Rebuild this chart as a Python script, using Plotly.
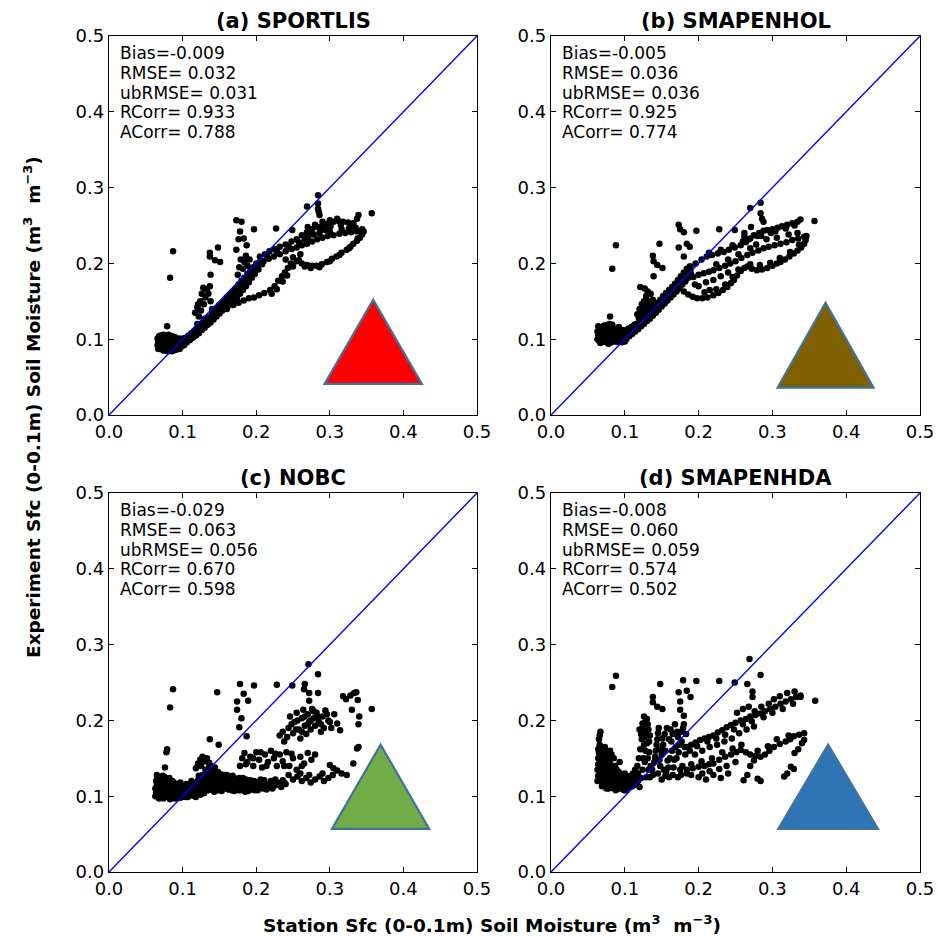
import plotly.graph_objects as go

# ---------------- data ----------------
panel_titles = ["(a) SPORTLIS", "(b) SMAPENHOL", "(c) NOBC", "(d) SMAPENHDA"]
stat_names = ["Bias", "RMSE", "ubRMSE", "RCorr", "ACorr"]
stats_a = ["-0.009", "0.032", "0.031", "0.933", "0.788"]
stats_b = ["-0.005", "0.036", "0.036", "0.925", "0.774"]
stats_c = ["-0.029", "0.063", "0.056", "0.670", "0.598"]
stats_d = ["-0.008", "0.060", "0.059", "0.574", "0.502"]
tick_vals = [0.0, 0.1, 0.2, 0.3, 0.4, 0.5]
one_to_one = [0.0, 0.5]

sportlis_points = [
    (0.066,0.092),(0.066,0.101),(0.067,0.087),(0.069,0.096),(0.070,0.105),(0.071,0.089),(0.072,0.099),
    (0.074,0.085),(0.075,0.093),(0.076,0.103),(0.078,0.088),(0.079,0.097),(0.080,0.084),(0.081,0.106),
    (0.082,0.091),(0.084,0.086),(0.085,0.100),(0.086,0.094),(0.088,0.085),(0.089,0.103),(0.090,0.090),
    (0.092,0.097),(0.093,0.087),(0.095,0.093),(0.096,0.101),(0.098,0.090),(0.079,0.117),(0.070,0.094),
    (0.083,0.096),
    (0.100,0.098),(0.102,0.092),(0.104,0.102),(0.106,0.096),(0.108,0.105),(0.110,0.099),(0.112,0.108),
    (0.114,0.102),(0.116,0.111),(0.118,0.105),(0.120,0.114),(0.122,0.108),(0.124,0.118),(0.126,0.112),
    (0.128,0.121),(0.130,0.115),(0.132,0.125),(0.134,0.119),(0.136,0.129),(0.138,0.122),(0.140,0.133),
    (0.142,0.126),(0.144,0.137),(0.146,0.130),(0.148,0.141),(0.150,0.134),(0.152,0.146),(0.154,0.138),
    (0.156,0.150),(0.158,0.141),(0.160,0.155),(0.162,0.144),(0.164,0.159),(0.166,0.148),(0.168,0.163),
    (0.170,0.151),(0.172,0.167),(0.174,0.155),(0.176,0.172),(0.178,0.160),(0.180,0.177),(0.182,0.165),
    (0.184,0.181),(0.186,0.170),(0.188,0.186),(0.190,0.175),(0.192,0.190),(0.194,0.181),(0.196,0.195),
    (0.198,0.186),(0.200,0.200),(0.203,0.192),(0.206,0.204),(0.140,0.140),(0.150,0.145),(0.160,0.150),
    (0.170,0.160),(0.180,0.170),(0.190,0.184),(0.130,0.127),(0.120,0.120),(0.110,0.104),
    (0.117,0.135),(0.120,0.142),(0.122,0.130),(0.124,0.150),(0.125,0.138),(0.126,0.160),(0.128,0.168),
    (0.129,0.146),(0.131,0.155),(0.133,0.166),(0.135,0.160),(0.137,0.170),(0.138,0.150),(0.121,0.146),
    (0.151,0.136),(0.160,0.140),(0.169,0.145),(0.176,0.148),(0.183,0.151),(0.190,0.154),(0.197,0.155),
    (0.204,0.158),(0.211,0.161),(0.219,0.165),(0.225,0.170),(0.230,0.177),(0.235,0.183),(0.239,0.188),
    (0.243,0.194),(0.247,0.200),
    (0.175,0.185),(0.177,0.195),(0.179,0.205),(0.182,0.193),(0.184,0.202),(0.186,0.210),(0.188,0.197),
    (0.191,0.205),
    (0.205,0.209),(0.212,0.212),(0.218,0.216),(0.225,0.219),(0.232,0.222),(0.240,0.225),(0.248,0.229),
    (0.255,0.232),(0.262,0.237),(0.269,0.241),(0.276,0.245),(0.283,0.248),(0.290,0.250),(0.297,0.252),
    (0.305,0.255),(0.312,0.256),(0.318,0.255),(0.325,0.254),(0.332,0.253),(0.337,0.259),(0.339,0.264),
    (0.300,0.257),(0.310,0.259),(0.290,0.255),(0.270,0.248),(0.280,0.251),
    (0.210,0.203),(0.217,0.206),(0.224,0.209),(0.232,0.212),(0.240,0.216),(0.248,0.219),(0.255,0.221),
    (0.262,0.224),(0.269,0.226),(0.276,0.229),(0.283,0.232),(0.290,0.234),(0.297,0.236),(0.305,0.237),
    (0.313,0.239),(0.321,0.240),(0.329,0.241),(0.337,0.242),(0.344,0.245),(0.260,0.212),(0.250,0.208),
    (0.240,0.205),
    (0.255,0.203),(0.262,0.200),(0.269,0.198),(0.276,0.197),(0.282,0.197),(0.289,0.199),(0.296,0.202),
    (0.303,0.206),(0.309,0.209),(0.316,0.214),(0.323,0.218),(0.328,0.222),(0.332,0.226),(0.337,0.230),
    (0.341,0.234),(0.344,0.238),(0.346,0.242),
    (0.087,0.216),(0.083,0.181),(0.173,0.257),(0.180,0.255),(0.178,0.242),(0.176,0.232),(0.183,0.233),
    (0.187,0.224),(0.173,0.218),(0.137,0.214),(0.137,0.209),(0.148,0.221),(0.144,0.204),(0.151,0.202),
    (0.138,0.185),(0.197,0.245),(0.227,0.246),(0.249,0.244),(0.269,0.275),(0.284,0.290),(0.284,0.279),
    (0.284,0.272),(0.285,0.268),(0.286,0.264),(0.357,0.266),
]
sportlis_extra = [
    (0.067,0.096),(0.068,0.104),(0.070,0.087),(0.071,0.100),(0.073,0.091),(0.074,0.106),(0.076,0.096),
    (0.077,0.085),(0.078,0.101),(0.080,0.092),(0.081,0.088),(0.082,0.100),(0.084,0.094),(0.085,0.084),
    (0.086,0.104),(0.087,0.089),(0.088,0.098),(0.090,0.094),(0.091,0.086),(0.092,0.101),(0.094,0.089),
    (0.094,0.097),(0.096,0.087),(0.097,0.096),(0.099,0.092),
    (0.101,0.101),(0.105,0.099),(0.109,0.101),(0.113,0.105),(0.117,0.107),(0.121,0.111),(0.125,0.115),
    (0.129,0.124),(0.133,0.122),(0.137,0.125),(0.141,0.129),(0.145,0.133),(0.149,0.137),(0.153,0.141),
    (0.157,0.145),(0.161,0.148),(0.165,0.153),(0.169,0.157),(0.173,0.162),(0.177,0.166),(0.181,0.172),
    (0.185,0.177),(0.189,0.181),(0.193,0.186),(0.197,0.191),(0.201,0.196),(0.204,0.200),(0.208,0.199),
    (0.215,0.210),(0.228,0.216),(0.244,0.222),(0.258,0.228),(0.266,0.232),(0.273,0.238),(0.287,0.243),
    (0.301,0.249),(0.315,0.251),(0.329,0.249),(0.335,0.247),(0.286,0.240),(0.294,0.244),(0.278,0.238),
    (0.270,0.234),(0.300,0.242),(0.316,0.245),(0.326,0.246),
    (0.221,0.160),(0.228,0.166),(0.236,0.176),(0.242,0.184),(0.250,0.196),(0.258,0.204),(0.266,0.196),
    (0.274,0.194),(0.286,0.195),(0.300,0.203),(0.313,0.211),(0.326,0.220),(0.338,0.233),
]

smapenhol_points = [
    (0.063,0.100),(0.063,0.110),(0.064,0.117),(0.066,0.104),(0.067,0.095),(0.068,0.113),(0.070,0.100),
    (0.071,0.108),(0.072,0.118),(0.074,0.096),(0.075,0.104),(0.076,0.112),(0.078,0.099),(0.079,0.120),
    (0.080,0.107),(0.082,0.096),(0.083,0.115),(0.084,0.102),(0.086,0.109),(0.087,0.097),(0.089,0.114),
    (0.090,0.103),(0.092,0.097),(0.093,0.110),(0.095,0.103),(0.097,0.099),(0.098,0.112),(0.100,0.105),
    (0.102,0.100),(0.104,0.110),(0.106,0.104),(0.108,0.112),(0.080,0.130),(0.110,0.107),
    (0.112,0.115),(0.114,0.110),(0.116,0.120),(0.118,0.113),(0.120,0.124),(0.122,0.117),(0.124,0.128),
    (0.126,0.120),(0.128,0.132),(0.130,0.124),(0.132,0.137),(0.134,0.127),(0.136,0.140),(0.138,0.131),
    (0.140,0.144),(0.142,0.135),(0.144,0.148),(0.146,0.139),(0.148,0.152),(0.150,0.143),(0.152,0.157),
    (0.154,0.147),(0.156,0.161),(0.158,0.151),(0.160,0.165),(0.162,0.155),(0.164,0.169),(0.166,0.159),
    (0.168,0.173),(0.170,0.163),(0.172,0.178),(0.174,0.167),(0.176,0.183),(0.178,0.172),(0.180,0.188),
    (0.182,0.176),(0.184,0.193),(0.186,0.181),(0.188,0.196),(0.190,0.185),
    (0.117,0.133),(0.120,0.140),(0.123,0.146),(0.126,0.150),(0.129,0.144),(0.132,0.150),(0.135,0.146),
    (0.138,0.152),(0.124,0.138),(0.121,0.169),(0.127,0.167),(0.131,0.163),(0.135,0.160),(0.129,0.157),
    (0.189,0.196),(0.196,0.200),(0.204,0.205),(0.211,0.209),(0.218,0.211),(0.226,0.213),(0.234,0.215),
    (0.241,0.218),(0.249,0.221),(0.257,0.224),(0.264,0.228),(0.270,0.233),(0.275,0.237),(0.282,0.240),
    (0.288,0.243),(0.293,0.244),(0.300,0.245),(0.307,0.247),(0.313,0.249),(0.320,0.251),(0.327,0.253),
    (0.334,0.255),(0.338,0.258),(0.262,0.235),(0.280,0.236),(0.298,0.240),
    (0.193,0.182),(0.200,0.185),(0.207,0.187),(0.214,0.189),(0.220,0.191),(0.228,0.194),(0.236,0.197),
    (0.243,0.200),(0.250,0.203),(0.258,0.207),(0.266,0.211),(0.273,0.214),(0.281,0.217),(0.288,0.220),
    (0.295,0.222),(0.303,0.224),(0.311,0.226),(0.319,0.228),(0.327,0.231),(0.335,0.233),(0.343,0.235),
    (0.180,0.163),(0.186,0.159),(0.192,0.156),(0.198,0.154),(0.205,0.154),(0.212,0.155),(0.220,0.158),
    (0.227,0.161),(0.233,0.165),(0.239,0.169),(0.244,0.174),(0.248,0.178),(0.252,0.184),(0.257,0.190),
    (0.262,0.194),(0.200,0.170),(0.210,0.175),(0.220,0.178),(0.230,0.183),(0.240,0.188),(0.215,0.165),
    (0.195,0.172),
    (0.266,0.196),(0.272,0.193),(0.279,0.191),(0.286,0.192),(0.293,0.194),(0.300,0.197),(0.306,0.200),
    (0.311,0.202),(0.317,0.205),(0.323,0.209),(0.329,0.213),(0.334,0.217),(0.339,0.221),(0.343,0.226),
    (0.345,0.231),(0.346,0.236),
    (0.088,0.224),(0.083,0.193),(0.147,0.226),(0.138,0.210),(0.139,0.203),(0.144,0.198),(0.151,0.194),
    (0.139,0.183),(0.173,0.251),(0.175,0.245),(0.180,0.241),(0.173,0.221),(0.184,0.226),(0.188,0.222),
    (0.180,0.209),(0.197,0.243),(0.228,0.245),(0.249,0.244),(0.262,0.240),(0.271,0.248),(0.270,0.273),
    (0.284,0.280),(0.284,0.266),(0.286,0.259),(0.288,0.255),(0.357,0.256),
]
smapenhol_extra = [
    (0.064,0.106),(0.065,0.098),(0.066,0.114),(0.068,0.102),(0.069,0.108),(0.070,0.116),(0.072,0.097),
    (0.073,0.111),(0.074,0.102),(0.075,0.118),(0.077,0.106),(0.078,0.094),(0.079,0.113),(0.081,0.101),
    (0.082,0.110),(0.083,0.119),(0.085,0.098),(0.085,0.106),(0.087,0.113),(0.088,0.102),(0.090,0.109),
    (0.091,0.096),(0.092,0.116),(0.094,0.106),(0.096,0.096),(0.096,0.110),(0.099,0.101),(0.101,0.110),
    (0.103,0.104),(0.105,0.114),(0.107,0.108),(0.109,0.116),(0.094,0.100),(0.100,0.097),
    (0.113,0.119),(0.117,0.116),(0.121,0.121),(0.125,0.124),(0.129,0.127),(0.133,0.132),(0.137,0.136),
    (0.141,0.140),(0.145,0.144),(0.149,0.148),(0.153,0.152),(0.157,0.156),(0.161,0.160),(0.165,0.164),
    (0.169,0.168),(0.173,0.172),(0.177,0.177),(0.181,0.182),(0.185,0.187),(0.189,0.190),(0.119,0.128),
    (0.122,0.135),(0.126,0.143),(0.130,0.140),(0.134,0.141),(0.137,0.145),
    (0.214,0.214),(0.230,0.218),(0.246,0.224),(0.260,0.229),(0.268,0.232),(0.285,0.236),(0.304,0.242),
    (0.318,0.246),(0.330,0.250),(0.278,0.225),(0.292,0.232),(0.306,0.234),(0.322,0.238),(0.334,0.240),
    (0.224,0.199),(0.240,0.205),(0.254,0.212),(0.270,0.220),(0.208,0.162),(0.224,0.166),(0.236,0.172),
    (0.246,0.182),(0.254,0.192),(0.270,0.199),(0.283,0.198),(0.297,0.201),(0.310,0.207),(0.324,0.215),
    (0.336,0.225),
]

nobc_points = [
    (0.063,0.100),(0.063,0.110),(0.064,0.120),(0.065,0.128),(0.066,0.105),(0.067,0.115),(0.068,0.097),
    (0.069,0.124),(0.070,0.110),(0.071,0.102),(0.072,0.118),(0.074,0.097),(0.075,0.108),(0.076,0.125),
    (0.077,0.114),(0.079,0.100),(0.080,0.120),(0.082,0.106),(0.083,0.096),(0.085,0.113),(0.087,0.101),
    (0.088,0.118),(0.090,0.097),(0.091,0.108),(0.093,0.103),(0.095,0.113),(0.097,0.098),(0.099,0.107),
    (0.101,0.100),(0.103,0.111),(0.105,0.104),(0.107,0.099),(0.109,0.114),(0.111,0.106),(0.113,0.101),
    (0.115,0.117),(0.117,0.108),(0.119,0.103),(0.121,0.121),(0.123,0.112),(0.125,0.105),(0.127,0.128),
    (0.129,0.116),(0.131,0.108),(0.133,0.133),(0.135,0.121),(0.137,0.111),(0.139,0.127),(0.141,0.116),
    (0.143,0.106),(0.145,0.131),(0.147,0.120),(0.149,0.112),(0.151,0.125),(0.153,0.107),(0.155,0.118),
    (0.157,0.128),(0.159,0.110),(0.161,0.121),(0.163,0.114),(0.165,0.126),(0.167,0.108),(0.169,0.118),
    (0.171,0.112),(0.173,0.123),(0.176,0.108),(0.178,0.117),(0.180,0.111),(0.182,0.124),(0.185,0.106),
    (0.187,0.116),(0.190,0.110),(0.192,0.121),(0.195,0.113),(0.198,0.108),(0.200,0.118),(0.203,0.112),
    (0.206,0.122),(0.209,0.110),(0.212,0.116),(0.216,0.112),(0.220,0.120),(0.224,0.113),(0.228,0.118),
    (0.232,0.114),(0.236,0.121),(0.240,0.116),
    (0.118,0.137),(0.121,0.143),(0.124,0.148),(0.127,0.152),(0.130,0.146),(0.133,0.150),(0.136,0.144),
    (0.139,0.140),(0.142,0.137),(0.125,0.140),(0.076,0.138),(0.078,0.158),(0.079,0.162),
    (0.178,0.140),(0.181,0.150),(0.184,0.157),(0.188,0.145),(0.192,0.152),(0.196,0.140),(0.200,0.158),
    (0.204,0.148),(0.208,0.138),(0.212,0.155),(0.216,0.145),(0.220,0.160),(0.224,0.150),(0.228,0.140),
    (0.232,0.155),(0.236,0.146),(0.241,0.158),(0.245,0.140),(0.250,0.150),(0.255,0.135),(0.260,0.152),
    (0.265,0.143),(0.270,0.157),(0.275,0.148),(0.280,0.155),
    (0.244,0.128),(0.250,0.122),(0.256,0.126),(0.262,0.120),(0.268,0.124),(0.274,0.118),(0.280,0.122),
    (0.286,0.126),(0.292,0.120),(0.298,0.124),(0.304,0.128),
    (0.300,0.141),(0.305,0.137),(0.310,0.134),(0.316,0.130),(0.323,0.128),(0.332,0.143),(0.337,0.163),
    (0.339,0.165),
    (0.232,0.180),(0.238,0.172),(0.244,0.190),(0.246,0.205),(0.250,0.183),(0.252,0.198),(0.255,0.210),
    (0.258,0.188),(0.260,0.176),(0.262,0.203),(0.264,0.214),(0.266,0.193),(0.268,0.182),(0.270,0.208),
    (0.272,0.198),(0.274,0.188),(0.276,0.215),(0.278,0.203),(0.280,0.193),(0.282,0.210),(0.285,0.198),
    (0.288,0.185),(0.290,0.205),(0.294,0.213),(0.298,0.200),(0.302,0.190),(0.306,0.208),(0.310,0.196),
    (0.314,0.187),
    (0.318,0.232),(0.322,0.228),(0.328,0.233),(0.333,0.236),(0.336,0.237),(0.338,0.227),(0.340,0.205),
    (0.339,0.195),(0.330,0.214),
    (0.087,0.241),(0.083,0.217),(0.147,0.237),(0.178,0.248),(0.183,0.235),(0.189,0.226),(0.174,0.225),
    (0.174,0.214),(0.180,0.203),(0.177,0.191),(0.187,0.179),(0.137,0.175),(0.149,0.168),(0.197,0.246),
    (0.228,0.247),(0.249,0.246),(0.266,0.248),(0.271,0.274),(0.284,0.261),(0.265,0.241),(0.272,0.236),
    (0.284,0.236),(0.272,0.226),(0.357,0.215),
]
nobc_extra = [
    (0.064,0.105),(0.065,0.115),(0.066,0.124),(0.068,0.110),(0.069,0.102),(0.070,0.118),(0.072,0.106),
    (0.073,0.127),(0.074,0.112),(0.076,0.101),(0.077,0.120),(0.078,0.108),(0.080,0.099),(0.081,0.115),
    (0.082,0.124),(0.084,0.103),(0.085,0.109),(0.086,0.120),(0.088,0.099),(0.089,0.112),(0.090,0.104),
    (0.092,0.116),(0.093,0.098),(0.094,0.108),(0.096,0.103),(0.097,0.118),(0.099,0.099),(0.100,0.111),
    (0.102,0.105),(0.104,0.099),(0.105,0.116),(0.107,0.108),(0.109,0.102),(0.111,0.112),(0.112,0.120),
    (0.114,0.104),(0.116,0.111),(0.118,0.099),(0.119,0.116),(0.121,0.108),(0.122,0.127),(0.124,0.102),
    (0.125,0.120),(0.127,0.111),(0.129,0.104),(0.130,0.124),(0.131,0.135),(0.132,0.115),(0.134,0.128),
    (0.135,0.108),(0.136,0.138),(0.137,0.119),(0.139,0.110),(0.140,0.133),(0.142,0.123),(0.143,0.113),
    (0.144,0.138),(0.146,0.126),(0.148,0.108),(0.148,0.132),(0.150,0.118),(0.152,0.129),(0.154,0.112),
    (0.156,0.123),(0.158,0.116),(0.160,0.128),(0.162,0.109),(0.164,0.120),(0.166,0.113),(0.168,0.127),
    (0.170,0.107),(0.172,0.117),(0.175,0.113),(0.177,0.124),(0.179,0.108),(0.181,0.118),(0.184,0.112),
    (0.186,0.122),(0.189,0.107),(0.191,0.116),(0.194,0.109),(0.197,0.120),(0.199,0.113),(0.202,0.108),
    (0.205,0.117),(0.208,0.113),(0.211,0.121),(0.214,0.109),(0.218,0.116),(0.222,0.110),(0.226,0.122),
    (0.230,0.117),(0.234,0.112),(0.238,0.118),
    (0.236,0.185),(0.242,0.178),(0.248,0.195),(0.254,0.188),(0.256,0.200),(0.262,0.185),(0.266,0.205),
    (0.270,0.195),(0.274,0.200),(0.278,0.212),(0.284,0.205),(0.288,0.195),(0.292,0.190),(0.296,0.208),
    (0.300,0.198),(0.186,0.142),(0.196,0.150),(0.206,0.158),(0.214,0.140),(0.226,0.156),(0.238,0.140),
    (0.248,0.156),(0.262,0.140),(0.272,0.128),(0.260,0.130),(0.290,0.130),
]

smapenhda_points = [
    (0.063,0.120),(0.063,0.135),(0.064,0.150),(0.064,0.162),(0.065,0.175),(0.067,0.185),(0.066,0.128),
    (0.067,0.143),(0.068,0.157),(0.069,0.113),(0.070,0.136),(0.071,0.150),(0.072,0.122),(0.073,0.165),
    (0.074,0.140),(0.075,0.110),(0.076,0.130),(0.077,0.155),(0.078,0.118),(0.079,0.145),(0.080,0.160),
    (0.081,0.125),(0.082,0.135),(0.083,0.112),(0.085,0.150),(0.086,0.120),(0.087,0.140),(0.088,0.108),
    (0.090,0.128),(0.091,0.116),(0.093,0.145),(0.094,0.110),(0.096,0.122),(0.098,0.113),(0.100,0.130),
    (0.101,0.108),(0.103,0.118),(0.105,0.125),(0.107,0.112),(0.109,0.120),(0.111,0.130),(0.113,0.115),
    (0.115,0.125),(0.117,0.140),(0.118,0.120),
    (0.119,0.150),(0.121,0.162),(0.123,0.175),(0.120,0.188),(0.124,0.196),(0.126,0.205),(0.128,0.185),
    (0.130,0.170),(0.131,0.195),(0.133,0.158),(0.134,0.180),(0.127,0.145),(0.132,0.135),(0.129,0.125),
    (0.138,0.128),(0.140,0.145),(0.142,0.160),(0.144,0.175),(0.146,0.190),(0.148,0.140),(0.150,0.155),
    (0.152,0.168),(0.154,0.182),(0.156,0.132),(0.158,0.147),(0.160,0.175),(0.162,0.188),(0.164,0.160),
    (0.166,0.138),(0.168,0.195),(0.170,0.150),(0.172,0.178),(0.174,0.168),(0.176,0.185),(0.178,0.140),
    (0.180,0.195),(0.182,0.155),(0.184,0.130),(0.160,0.125),(0.172,0.125),(0.150,0.122),(0.145,0.130),
    (0.184,0.165),(0.190,0.168),(0.196,0.171),(0.202,0.174),(0.208,0.176),(0.214,0.178),(0.220,0.180),
    (0.226,0.184),(0.232,0.187),(0.238,0.191),(0.244,0.194),(0.250,0.197),(0.257,0.200),(0.264,0.202),
    (0.270,0.205),(0.277,0.207),(0.284,0.209),(0.290,0.212),(0.297,0.215),(0.304,0.218),(0.311,0.222),
    (0.318,0.225),(0.325,0.228),(0.332,0.231),(0.338,0.233),
    (0.184,0.135),(0.192,0.137),(0.200,0.139),(0.208,0.140),(0.214,0.142),(0.220,0.143),(0.228,0.148),
    (0.236,0.152),(0.244,0.155),(0.251,0.158),(0.257,0.161),(0.264,0.158),(0.270,0.155),(0.277,0.153),
    (0.284,0.152),(0.290,0.155),(0.296,0.160),(0.302,0.165),(0.310,0.169),(0.318,0.172),(0.324,0.175),
    (0.329,0.179),(0.336,0.181),(0.343,0.183),
    (0.195,0.155),(0.205,0.160),(0.215,0.165),(0.225,0.168),(0.235,0.172),(0.245,0.176),(0.255,0.183),
    (0.265,0.188),(0.275,0.192),(0.200,0.125),(0.210,0.122),(0.220,0.128),(0.230,0.124),(0.240,0.130),
    (0.261,0.121),(0.266,0.128),(0.270,0.140),(0.275,0.147),(0.280,0.123),(0.284,0.120),(0.316,0.126),
    (0.320,0.130),(0.325,0.139),(0.329,0.136),(0.330,0.157),(0.335,0.162),(0.340,0.170),(0.343,0.174),
    (0.252,0.210),(0.260,0.215),(0.268,0.218),(0.276,0.212),(0.285,0.218),(0.295,0.222),(0.302,0.228),
    (0.310,0.232),(0.320,0.236),(0.330,0.238),(0.338,0.231),
    (0.088,0.259),(0.083,0.244),(0.148,0.248),(0.138,0.231),(0.138,0.224),(0.144,0.218),(0.151,0.215),
    (0.179,0.253),(0.184,0.239),(0.173,0.237),(0.175,0.225),(0.175,0.214),(0.180,0.206),(0.189,0.231),
    (0.197,0.252),(0.228,0.252),(0.249,0.250),(0.266,0.248),(0.269,0.281),(0.284,0.260),(0.273,0.238),
    (0.273,0.231),(0.358,0.226),
]
smapenhda_extra = [
    (0.064,0.127),(0.064,0.142),(0.065,0.157),(0.066,0.168),(0.066,0.180),(0.067,0.135),(0.068,0.120),
    (0.068,0.150),(0.069,0.163),(0.070,0.128),(0.070,0.143),(0.071,0.116),(0.072,0.157),(0.073,0.133),
    (0.073,0.148),(0.074,0.120),(0.075,0.160),(0.076,0.115),(0.076,0.140),(0.077,0.125),(0.078,0.150),
    (0.078,0.110),(0.079,0.132),(0.080,0.120),(0.080,0.142),(0.081,0.115),(0.082,0.155),(0.083,0.128),
    (0.084,0.118),(0.084,0.140),(0.085,0.110),(0.086,0.132),(0.087,0.125),(0.088,0.115),(0.089,0.135),
    (0.090,0.110),(0.091,0.122),(0.092,0.132),(0.093,0.115),(0.095,0.128),(0.096,0.110),(0.097,0.120),
    (0.099,0.108),(0.100,0.118),(0.102,0.125),(0.104,0.112),(0.106,0.120),(0.108,0.127),(0.110,0.113),
    (0.112,0.122),(0.114,0.135),(0.116,0.118),(0.118,0.130),(0.120,0.112),(0.122,0.124),(0.124,0.135),
    (0.125,0.150),(0.126,0.168),(0.127,0.178),(0.122,0.182),(0.124,0.190),(0.128,0.198),(0.130,0.202),
    (0.132,0.188),(0.133,0.172),(0.131,0.150),(0.135,0.140),(0.128,0.160),(0.134,0.125),(0.137,0.135),
    (0.141,0.152),(0.143,0.168),(0.145,0.183),(0.147,0.148),(0.149,0.162),(0.151,0.176),(0.153,0.135),
    (0.155,0.160),(0.157,0.190),(0.159,0.138),(0.161,0.150),(0.163,0.172),(0.165,0.182),(0.167,0.148),
    (0.169,0.165),(0.171,0.185),(0.173,0.158),(0.175,0.135),(0.177,0.172),(0.179,0.190),(0.181,0.165),
    (0.183,0.182),(0.176,0.128),(0.165,0.128),(0.155,0.127),
    (0.188,0.160),(0.198,0.166),(0.212,0.172),(0.224,0.176),(0.236,0.181),(0.248,0.188),(0.260,0.195),
    (0.272,0.199),(0.288,0.204),(0.300,0.210),(0.314,0.215),(0.328,0.222),(0.190,0.142),(0.204,0.146),
    (0.218,0.150),(0.232,0.158),(0.246,0.163),(0.258,0.168),(0.280,0.160),(0.294,0.166),(0.306,0.175),
    (0.322,0.180),(0.190,0.128),(0.205,0.130),(0.215,0.133),(0.228,0.136),(0.238,0.140),(0.250,0.145),
]

panel_points = [sportlis_points + sportlis_extra, smapenhol_points + smapenhol_extra,
                nobc_points + nobc_extra, smapenhda_points + smapenhda_extra]
panel_stats = [stats_a, stats_b, stats_c, stats_d]

# ---------------- layout ----------------
W, H = 937, 936
FONT = "DejaVu Sans"
x_domains = [[109 / W, 477 / W], [551 / W, 920 / W], [109 / W, 477 / W], [551 / W, 920 / W]]
y_domains = [[(H - 415) / H, (H - 36) / H], [(H - 415) / H, (H - 36) / H],
             [(H - 872) / H, (H - 493) / H], [(H - 872) / H, (H - 493) / H]]

tri_fill = ["#FF0000", "#7F6000", "#70AD47", "#2E75B6"]
tri_geom = [  # (left x, right x, base y, apex y) in data units
    (0.293, 0.425, 0.041, 0.152),
    (0.307, 0.437, 0.036, 0.148),
    (0.303, 0.435, 0.057, 0.168),
    (0.308, 0.443, 0.057, 0.168),
]

fig = go.Figure()
shapes = []
annotations = []

for i in range(4):
    xs = "x" if i == 0 else f"x{i+1}"
    ys = "y" if i == 0 else f"y{i+1}"
    pts = panel_points[i]
    fig.add_trace(go.Scatter(
        x=[p[0] for p in pts], y=[p[1] for p in pts], mode="markers",
        marker=dict(color="black", size=6.5, line=dict(width=0)),
        xaxis=xs, yaxis=ys, showlegend=False, hoverinfo="skip"))
    fig.add_trace(go.Scatter(
        x=one_to_one, y=one_to_one, mode="lines",
        line=dict(color="#0000FF", width=1.4),
        xaxis=xs, yaxis=ys, showlegend=False, hoverinfo="skip"))

    axis_common = dict(
        range=[0, 0.5], tickvals=tick_vals, tickformat=".1f", automargin=False,
        ticks="inside", ticklen=5, tickwidth=1, tickcolor="black",
        showline=True, linecolor="black", linewidth=1.2, mirror="ticks",
        showgrid=False, zeroline=False,
        tickfont=dict(family=FONT, size=18, color="black"),
    )
    fig.layout[("xaxis" if i == 0 else f"xaxis{i+1}")] = dict(
        axis_common, domain=x_domains[i], anchor=ys)
    fig.layout[("yaxis" if i == 0 else f"yaxis{i+1}")] = dict(
        axis_common, domain=y_domains[i], anchor=xs)

    l, r, b, a = tri_geom[i]
    m = (l + r) / 2
    shapes.append(dict(
        type="path", xref=xs, yref=ys,
        path=f"M {l} {b} L {m} {a} L {r} {b} Z",
        fillcolor=tri_fill[i], line=dict(color="#41719C", width=2.2), layer="above"))

    for k, (n, v) in enumerate(zip(stat_names, panel_stats[i])):
        line_txt = f"{n}={v}" if n == "Bias" else f"{n}= {v}"
        annotations.append(dict(
            text=line_txt, xref=f"{xs} domain", yref=f"{ys} domain", x=0, y=1,
            xanchor="left", yanchor="middle", xshift=9, yshift=-(17 + 19.8 * k),
            align="left", showarrow=False,
            font=dict(family=FONT, size=17, color="black")))
    annotations.append(dict(
        text=f"<b>{panel_titles[i]}</b>", xref=f"{xs} domain", yref=f"{ys} domain",
        x=0.5, y=1, xanchor="center", yanchor="bottom", yshift=1, showarrow=False,
        font=dict(family=FONT, size=21, color="black")))

annotations.append(dict(
    text="<b>Station Sfc (0-0.1m) Soil Moisture (m<sup>3</sup>  m<sup>−3</sup>)</b>",
    xref="paper", yref="paper", x=492 / W, y=(H - 924) / H, xanchor="center", yanchor="middle",
    showarrow=False, font=dict(family=FONT, size=18.5, color="black")))
annotations.append(dict(
    text="<b>Experiment Sfc (0-0.1m) Soil Moisture (m<sup>3</sup>  m<sup>−3</sup>)</b>",
    xref="paper", yref="paper", x=32 / W, y=(H - 407) / H, xanchor="center", yanchor="middle",
    textangle=-90, showarrow=False, font=dict(family=FONT, size=18.5, color="black")))

fig.update_layout(
    template="none",
    width=W, height=H, margin=dict(l=0, r=0, t=0, b=0, pad=0, autoexpand=False),
    paper_bgcolor="white", plot_bgcolor="white",
    shapes=shapes, annotations=annotations, showlegend=False,
    font=dict(family=FONT, color="black"),
)

fig.write_html(
    "out.html",
    config={"displayModeBar": False, "staticPlot": True},
    post_script="document.body.style.margin='0';document.body.style.overflow='hidden';",
)
